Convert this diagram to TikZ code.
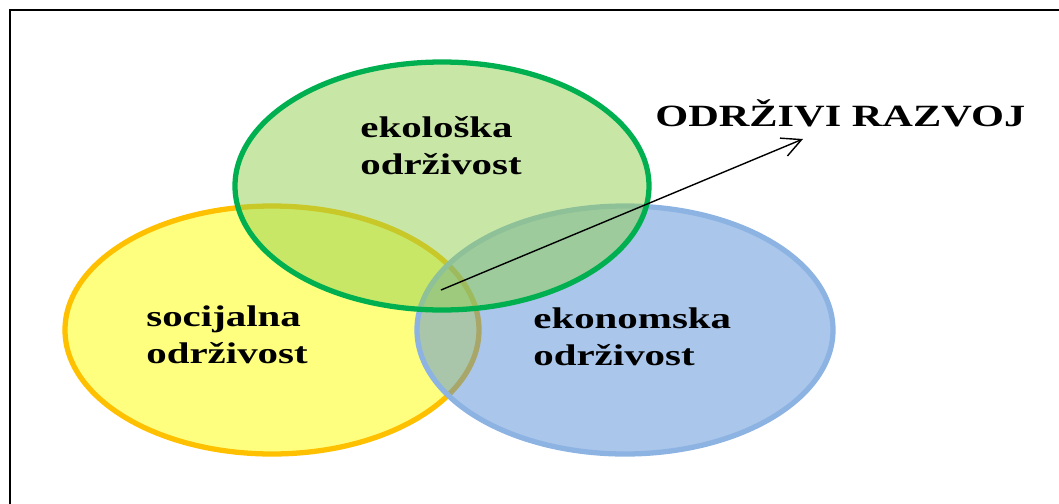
\documentclass[tikz,border=0pt]{standalone}
\usepackage{fontspec}
\setmainfont{Liberation Serif}[FakeStretch=1.37]
\usetikzlibrary{arrows.meta}
\definecolor{ekozelena}{HTML}{92D050}
\definecolor{ekorub}{HTML}{00B050}
\definecolor{soczuta}{HTML}{FFFF00}
\definecolor{socrub}{HTML}{FFC000}
\definecolor{ekonplava}{HTML}{558ED5}
\definecolor{ekonrub}{HTML}{8DB3E2}
\tikzset{
  krug/.style={line width=3pt, fill opacity=0.5},
  oznaka/.style={anchor=base west, align=left, inner sep=0pt,
    font=\bfseries\fontsize{17}{21}\selectfont},
}

\begin{document}
\begin{tikzpicture}[x=0.02cm,y=-0.02cm,>={Straight Barb[length=11pt,width=11pt]}]
   \path[use as bounding box] (0,0) rectangle (1059,504);
   % okvir
   \draw[line width=1.2pt] (10,504) |- (1059,10);

   % krugovi
   \draw[krug, draw=socrub, fill=soczuta] (272,330) ellipse [x radius=207, y radius=124];
   \draw[krug, draw=ekonrub, fill=ekonplava] (625,330) ellipse [x radius=208, y radius=124];
   \draw[krug, draw=ekorub, fill=ekozelena] (442,186) ellipse [x radius=207, y radius=124];

   % oznake (base = zadnji red)
   \node[oznaka] (eko) at (360,174) {ekološka\\održivost};
   \node[oznaka] (soc) at (146,363) {socijalna\\održivost};
   \node[oznaka] (ekon) at (533,365) {ekonomska\\održivost};
   \node[oznaka, font=\bfseries\fontsize{17.6}{21}\selectfont] (razvoj) at (655,126) {ODRŽIVI RAZVOJ};

   \coordinate (sredina) at (441,290);
   \coordinate (vrh) at (803,139);
   \draw[->, line width=0.8pt] (sredina) -- (vrh);
\end{tikzpicture}
\end{document}
